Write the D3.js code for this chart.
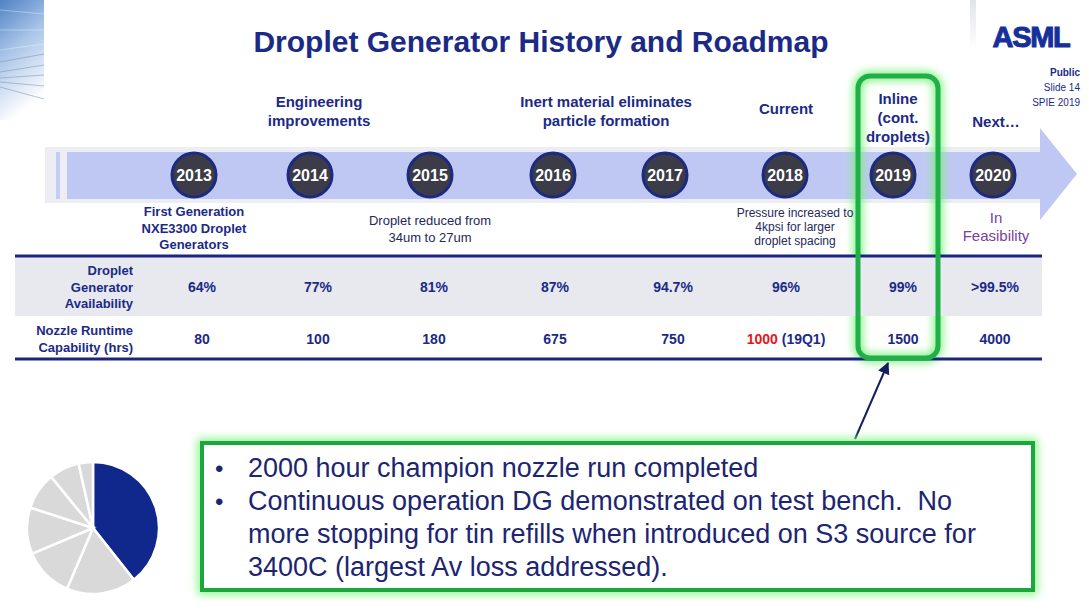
<!DOCTYPE html>
<html>
<head>
<meta charset="utf-8">
<script src="https://cdn.jsdelivr.net/npm/d3@7"></script>
<style>
body { margin: 0; background: #fff; }
svg { display: block; font-family: "Liberation Sans", Arial, sans-serif; }
</style>
</head>
<body>
<div class="container"></div>
<script>
// ---- data ----
var years = ["2013", "2014", "2015", "2016", "2017", "2018", "2019", "2020"];
var availability = ["64%", "77%", "81%", "87%", "94.7%", "96%", "99%", ">99.5%"];
var runtime = ["80", "100", "180", "675", "750", "1000", "1500", "4000"];
var runtimeNote = ["", "", "", "", "", "(19Q1)", "", ""];
var headerLines = [
  ["Engineering", "improvements"],
  ["Inert material eliminates", "particle formation"],
  ["Current"],
  ["Inline", "(cont.", "droplets)"],
  ["Next\u2026"]
];
var noteYears = ["2013", "2015", "2018", "2020"];
var noteLines = [
  ["First Generation", "NXE3300 Droplet", "Generators"],
  ["Droplet reduced from", "34um to 27um"],
  ["Pressure increased to", "4kpsi for larger", "droplet spacing"],
  ["In", "Feasibility"]
];
var rowLabels = [["Droplet", "Generator", "Availability"], ["Nozzle Runtime", "Capability (hrs)"]];
var lossShares = [39.4, 17.1, 12.2, 11.4, 9.1, 7.4, 3.5];
var bullets = [
  ["2000 hour champion nozzle run completed"],
  ["Continuous operation DG demonstrated on test bench.  No",
   "more stopping for tin refills when introduced on S3 source for",
   "3400C (largest Av loss addressed)."]
];

// ---- layout ----
const WIDTH = 1089, HEIGHT = 612;
const NAVY = "#1b2a86";
const GREEN = "#1fb04a";

var svg = d3.select(".container").append("svg")
  .attr("width", WIDTH)
  .attr("height", HEIGHT);

var defs = svg.append("defs");
var glow = defs.append("filter").attr("id", "glow")
  .attr("x", "-20%").attr("y", "-20%").attr("width", "140%").attr("height", "140%");
glow.append("feGaussianBlur").attr("stdDeviation", 4);

var corner = defs.append("linearGradient").attr("id", "corner")
  .attr("x1", 0).attr("y1", 0).attr("x2", 0.3).attr("y2", 1);
corner.append("stop").attr("offset", "0%").attr("stop-color", "#4f82c4");
corner.append("stop").attr("offset", "45%").attr("stop-color", "#a8c4e8");
corner.append("stop").attr("offset", "100%").attr("stop-color", "#ffffff");

var edge = defs.append("linearGradient").attr("id", "edge")
  .attr("x1", 0).attr("y1", 0).attr("x2", 0).attr("y2", 1);
edge.append("stop").attr("offset", "0%").attr("stop-color", "#d6d8dc");
edge.append("stop").attr("offset", "100%").attr("stop-color", "#ffffff");

// slide decoration, top-left corner and right panel edge
svg.append("rect").attr("x", 0).attr("y", 0).attr("width", 44).attr("height", 120)
  .attr("fill", "url(#corner)");
[[0, 10, 44, 14], [0, 30, 44, 30], [0, 50, 44, 44], [0, 62, 44, 54], [0, 72, 44, 65],
 [0, 78, 44, 75], [0, 82, 44, 86], [0, 87, 44, 99]].forEach(function(s, i) {
  svg.append("line")
    .attr("x1", s[0]).attr("y1", s[1]).attr("x2", s[2]).attr("y2", s[3])
    .attr("stroke", i < 3 ? "#ffffff" : "#7f94b4")
    .attr("stroke-opacity", i < 3 ? 0.35 : 0.55).attr("stroke-width", 1);
});
svg.append("rect").attr("x", 970).attr("y", 0).attr("width", 6).attr("height", 50)
  .attr("fill", "url(#edge)").attr("opacity", 0.7);

// scales
var colX = d3.scaleOrdinal().domain(years).range([202, 318, 434, 555, 673, 786, 903, 995]);
var dotX = d3.scaleOrdinal().domain(years).range([194, 310, 430, 553, 665, 785, 893, 993]);
var noteX = d3.scaleOrdinal().domain(noteYears).range([194, 430, 795, 996]);
var headerX = [319, 606, 786, 898, 996];
var headerY = [102, 102, 109, 99, 122];

// title and logo
svg.append("text").attr("x", 541).attr("y", 52).attr("text-anchor", "middle")
  .attr("font-size", 30).attr("font-weight", "bold").attr("fill", NAVY)
  .text("Droplet Generator History and Roadmap");

svg.append("text").attr("x", 1031).attr("y", 47).attr("text-anchor", "middle")
  .attr("font-size", 29).attr("font-weight", "bold").attr("fill", "#16309a")
  .attr("letter-spacing", -1.3).attr("stroke", "#16309a").attr("stroke-width", 1)
  .text("ASML");

var meta = [["Public", "bold"], ["Slide 14", "normal"], ["SPIE 2019", "normal"]];
svg.selectAll("text.meta").data(meta).join("text").attr("class", "meta")
  .attr("x", 1080).attr("y", function(d, i) { return 76 + i * 15; })
  .attr("text-anchor", "end").attr("font-size", 10)
  .attr("font-weight", function(d) { return d[1]; })
  .attr("fill", NAVY).text(function(d) { return d[0]; });

// column headers
svg.selectAll("text.header").data(headerLines).join("text").attr("class", "header")
  .attr("text-anchor", "middle").attr("font-size", 15).attr("font-weight", "bold").attr("fill", NAVY)
  .each(function(lines, i) {
    d3.select(this).selectAll("tspan").data(lines).join("tspan")
      .attr("x", headerX[i])
      .attr("y", function(d, j) { return headerY[i] + 5 + j * 19; })
      .text(function(d) { return d; });
  });

// timeline arrow
svg.append("rect").attr("x", 45).attr("y", 147).attr("width", 1000).attr("height", 56)
  .attr("fill", "#eceef3");
svg.append("rect").attr("x", 56).attr("y", 152).attr("width", 4).attr("height", 47)
  .attr("fill", "#c5cdf2");
svg.append("path")
  .attr("d", d3.line()([[67, 152], [1040, 152], [1040, 128], [1077, 174], [1040, 220], [1040, 199], [67, 199]]) + "Z")
  .attr("fill", "#bfc8f3");

// highlight glow around 2019
svg.append("rect").attr("x", 858).attr("y", 76).attr("width", 80).attr("height", 282).attr("rx", 12)
  .attr("fill", "none").attr("stroke", "#7cf07c").attr("stroke-width", 9).attr("filter", "url(#glow)");

// year dots
var dots = svg.selectAll("g.year").data(years).join("g").attr("class", "year")
  .attr("transform", function(d) { return "translate(" + dotX(d) + ",175)"; });
dots.append("circle").attr("r", 22)
  .attr("fill", "#3b3c47").attr("stroke", "#1c2a80").attr("stroke-width", 3);
dots.append("text").attr("text-anchor", "middle").attr("y", 6)
  .attr("font-size", 16).attr("font-weight", "bold").attr("fill", "#ffffff")
  .text(function(d) { return d; });

// notes under the arrow
var noteStyle = [
  {size: 13, weight: "bold", fill: NAVY, top: 216, step: 16.5},
  {size: 13, weight: "normal", fill: "#24285a", top: 225, step: 17},
  {size: 12, weight: "normal", fill: "#24285a", top: 217, step: 14},
  {size: 15, weight: "normal", fill: "#7b3f9e", top: 223, step: 18}
];
svg.selectAll("text.note").data(noteLines).join("text").attr("class", "note")
  .attr("text-anchor", "middle")
  .attr("font-size", function(d, i) { return noteStyle[i].size; })
  .attr("font-weight", function(d, i) { return noteStyle[i].weight; })
  .attr("fill", function(d, i) { return noteStyle[i].fill; })
  .each(function(lines, i) {
    d3.select(this).selectAll("tspan").data(lines).join("tspan")
      .attr("x", noteX(noteYears[i]))
      .attr("y", function(d, j) { return noteStyle[i].top + j * noteStyle[i].step; })
      .text(function(d) { return d; });
  });

// table
svg.append("rect").attr("x", 15).attr("y", 257).attr("width", 1027).attr("height", 59).attr("fill", "#e7e9ef");
[256, 359].forEach(function(y) {
  svg.append("line").attr("x1", 15).attr("x2", 1042).attr("y1", y).attr("y2", y)
    .attr("stroke", "#1a2580").attr("stroke-width", 3);
});

var labelTop = [275, 335];
svg.selectAll("text.rowlabel").data(rowLabels).join("text").attr("class", "rowlabel")
  .attr("text-anchor", "end").attr("font-size", 13).attr("font-weight", "bold").attr("fill", NAVY)
  .each(function(lines, i) {
    d3.select(this).selectAll("tspan").data(lines).join("tspan")
      .attr("x", 133)
      .attr("y", function(d, j) { return labelTop[i] + j * 16.5; })
      .text(function(d) { return d; });
  });

svg.selectAll("text.avail").data(availability).join("text").attr("class", "avail")
  .attr("x", function(d, i) { return colX(years[i]); }).attr("y", 292)
  .attr("text-anchor", "middle").attr("font-size", 14).attr("font-weight", "bold").attr("fill", NAVY)
  .text(function(d) { return d; });

var rt = svg.selectAll("text.runtime").data(runtime).join("text").attr("class", "runtime")
  .attr("x", function(d, i) { return colX(years[i]); }).attr("y", 344)
  .attr("text-anchor", "middle").attr("font-size", 14).attr("font-weight", "bold").attr("fill", NAVY);
rt.append("tspan")
  .attr("fill", function(d, i) { return runtimeNote[i] ? "#e8141b" : NAVY; })
  .text(function(d) { return d; });
rt.append("tspan")
  .text(function(d, i) { return runtimeNote[i] ? " " + runtimeNote[i] : ""; });

// highlight stroke on top
svg.append("rect").attr("x", 858).attr("y", 76).attr("width", 80).attr("height", 282).attr("rx", 12)
  .attr("fill", "none").attr("stroke", GREEN).attr("stroke-width", 5);

// pointer arrow
defs.append("marker").attr("id", "head").attr("viewBox", "0 0 10 10")
  .attr("refX", 9).attr("refY", 5).attr("markerWidth", 6).attr("markerHeight", 6).attr("orient", "auto")
  .append("path").attr("d", "M0,0L10,5L0,10Z").attr("fill", "#14205e");
svg.append("line").attr("x1", 855).attr("y1", 439).attr("x2", 888).attr("y2", 363)
  .attr("stroke", "#14205e").attr("stroke-width", 2).attr("marker-end", "url(#head)");

// callout box
svg.append("rect").attr("x", 202).attr("y", 443).attr("width", 831).attr("height", 147)
  .attr("fill", "none").attr("stroke", "#8cf58c").attr("stroke-width", 9).attr("filter", "url(#glow)");
svg.append("rect").attr("x", 202).attr("y", 443).attr("width", 831).attr("height", 147)
  .attr("fill", "#ffffff").attr("stroke", "#1aa83c").attr("stroke-width", 4);

var lineNo = 0;
bullets.forEach(function(lines) {
  svg.append("text").attr("x", 215).attr("y", 477 + lineNo * 33)
    .attr("font-size", 24).attr("fill", "#1c2570").text("\u2022");
  lines.forEach(function(l) {
    svg.append("text").attr("x", 248).attr("y", 477 + lineNo * 33)
      .attr("font-size", 27).attr("fill", "#1c2570")
      .style("white-space", "pre").text(l);
    lineNo++;
  });
});

// pie of availability losses
var pie = d3.pie().sort(null)(lossShares);
var arc = d3.arc().innerRadius(0).outerRadius(66);
svg.append("g").attr("transform", "translate(93,528)")
  .selectAll("path").data(pie).join("path")
  .attr("d", arc)
  .attr("fill", function(d, i) { return i === 0 ? "#10288c" : "#d9d9d9"; })
  .attr("stroke", "#ffffff").attr("stroke-width", 2.5);
</script>
</body>
</html>
